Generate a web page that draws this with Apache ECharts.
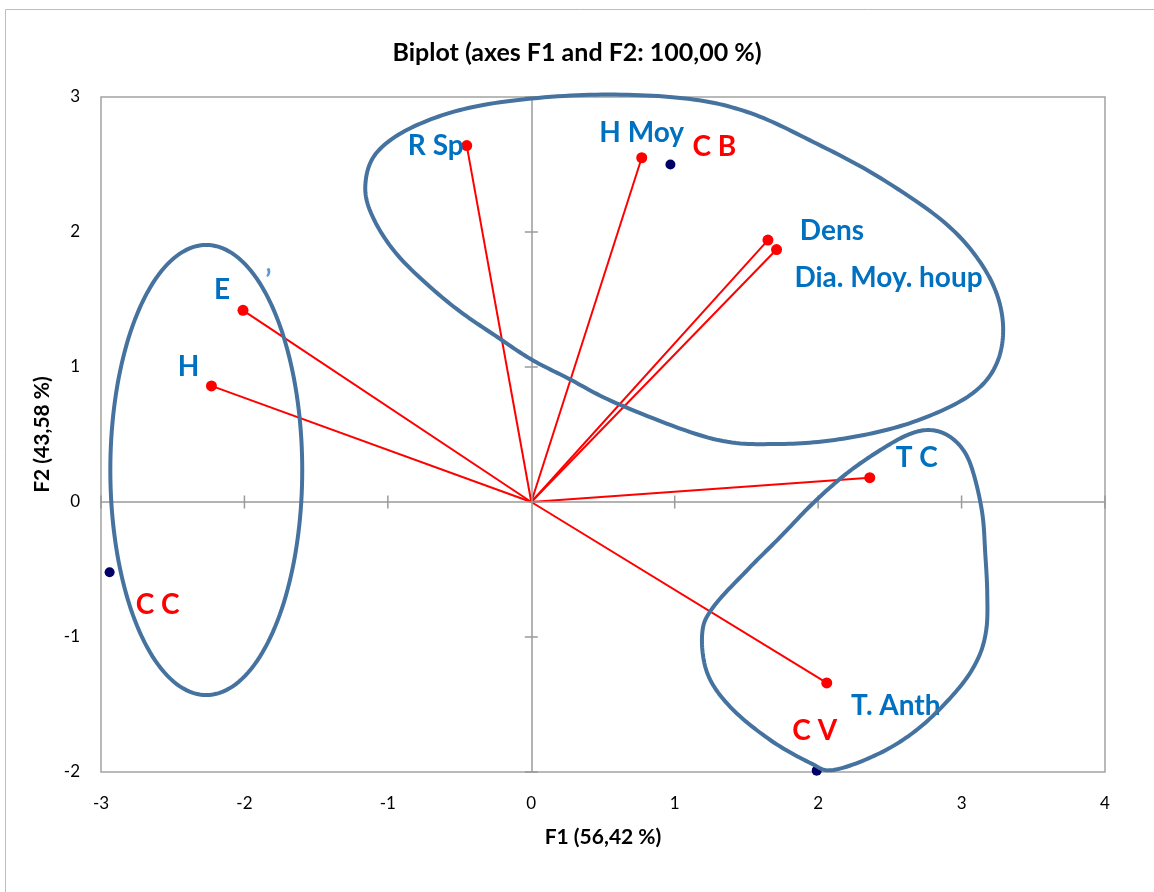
<!DOCTYPE html>
<html>
<head>
<meta charset="utf-8">
<title>Biplot</title>
<script src="https://cdn.jsdelivr.net/npm/echarts@6/dist/echarts.min.js"></script>
<style>
  html, body { margin: 0; padding: 0; background: #ffffff; }
  #chart { width: 1154px; height: 892px; }
</style>
</head>
<body>
<div id="chart"></div>
<script>
// Axis ticks
const xTicks = [-3, -2, -1, 0, 1, 2, 3, 4];
const yTicks = [-2, -1, 0, 1, 2, 3];

// Variables (vectors from the origin)
const variableNames = ['R Sp', 'H Moy', 'Dens', 'Dia. Moy. houp', 'E', 'H', 'T C', 'T. Anth'];
const variableF1 = [-0.45, 0.77, 1.65, 1.71, -2.01, -2.23, 2.36, 2.06];
const variableF2 = [2.64, 2.55, 1.94, 1.87, 1.42, 0.86, 0.18, -1.34];

// Observations
const observationNames = ['C B', 'C C', 'C V'];
const observationF1 = [0.97, -2.94, 1.99];
const observationF2 = [2.50, -0.52, -1.99];

// Group outlines drawn around the clusters (F1, F2 units)
const upperGroupOutline = [
  [0.363, 3.015], [1.039, 2.993], [1.506, 2.889], [1.966, 2.667], [2.434, 2.400],
  [2.901, 2.052], [3.173, 1.704], [3.285, 1.363], [3.249, 1.037], [3.061, 0.793],
  [2.663, 0.593], [2.203, 0.474], [1.736, 0.430], [1.269, 0.467], [0.621, 0.719],
  [0.251, 0.919], [0.007, 1.052], [-0.216, 1.207], [-0.565, 1.467], [-0.914, 1.807],
  [-1.102, 2.104], [-1.157, 2.348], [-1.074, 2.593], [-0.795, 2.793], [-0.335, 2.941]
];
const lowerRightGroupOutline = [
  [2.768, 0.533], [2.900, 0.496], [3.012, 0.385], [3.082, 0.215], [3.144, -0.081],
  [3.165, -0.378], [3.179, -0.674], [3.172, -0.948], [3.110, -1.170], [2.970, -1.393],
  [2.712, -1.667], [2.433, -1.859], [2.106, -1.985], [1.945, -1.933], [1.666, -1.763],
  [1.388, -1.519], [1.227, -1.267], [1.192, -0.970], [1.269, -0.778], [1.506, -0.504],
  [1.736, -0.259], [1.966, -0.007], [2.203, 0.215], [2.434, 0.385], [2.622, 0.496]
];
const leftGroupEllipse = { cx: -2.266, cy: 0.237, rx: 0.669, ry: 1.667 };

// Layout of the point labels (pixel offsets from the point)
const variableLabelOffset = {
  'R Sp': [-31, 0], 'H Moy': [0, -25], 'Dens': [64, -9], 'Dia. Moy. houp': [112, 28],
  'E': [-21, -20], 'H': [-23, -19], 'T C': [47, -20], 'T. Anth': [69, 23]
};
const observationLabelOffset = { 'C B': [44, -18], 'C C': [48, 33], 'C V': [-2, -40] };

const FONT = 'Lato, "Open Sans", sans-serif';
const OUTLINE_COLOR = '#45729e';

// Closed Catmull-Rom curve through pixel points
function catmullClosed(pts, steps) {
  const out = [];
  const m = pts.length;
  for (let i = 0; i < m; i++) {
    const p0 = pts[(i - 1 + m) % m], p1 = pts[i], p2 = pts[(i + 1) % m], p3 = pts[(i + 2) % m];
    for (let k = 0; k < steps; k++) {
      const t = k / steps, t2 = t * t, t3 = t2 * t;
      const c = j => 0.5 * (2 * p1[j] + (-p0[j] + p2[j]) * t +
        (2 * p0[j] - 5 * p1[j] + 4 * p2[j] - p3[j]) * t2 +
        (-p0[j] + 3 * p1[j] - 3 * p2[j] + p3[j]) * t3);
      out.push([c(0), c(1)]);
    }
  }
  return out;
}

const chart = echarts.init(document.getElementById('chart'), null, { renderer: 'canvas' });

const variableData = variableNames.map((n, i) => ({
  name: n,
  value: [variableF1[i], variableF2[i]],
  label: { offset: variableLabelOffset[n] }
}));
const observationData = observationNames.map((n, i) => ({
  name: n,
  value: [observationF1[i], observationF2[i]],
  label: { offset: observationLabelOffset[n] }
}));

const pointLabel = color => ({
  show: true, position: 'inside', formatter: '{b}',
  fontFamily: FONT, fontSize: 28, fontWeight: 'bold', color: color, opacity: 1,
  align: 'center', verticalAlign: 'middle'
});

const option = {
  backgroundColor: '#ffffff',
  animation: false,
  title: {
    text: 'Biplot (axes F1 and F2: 100,00 %)',
    left: 'center',
    top: 35,
    textStyle: { fontFamily: FONT, fontSize: 25, fontWeight: 'bold', color: '#000000' }
  },
  graphic: [{
    type: 'rect',
    shape: { x: 5.5, y: 9.5, width: 1200, height: 1000 },
    style: { fill: 'none', stroke: '#bdbdbd', lineWidth: 1 },
    silent: true, z: -10
  }],
  grid: {
    left: 101, right: 49, top: 97, bottom: 120,
    containLabel: false, outerBoundsMode: 'none',
    show: true, borderColor: '#a3a3a3', borderWidth: 1.5, backgroundColor: 'transparent'
  },
  xAxis: {
    type: 'value', min: -3, max: 4, interval: 1,
    name: 'F1 (56,42 %)', nameLocation: 'middle', nameGap: 55,
    nameTextStyle: { fontFamily: FONT, fontSize: 21, fontWeight: 'bold', color: '#000' },
    axisLine: { show: false, onZero: false }, axisTick: { show: false }, splitLine: { show: false },
    axisLabel: { fontFamily: FONT, fontSize: 17, color: '#000', margin: 23,
      customValues: xTicks, formatter: v => String(v) }
  },
  yAxis: {
    type: 'value', min: -2, max: 3, interval: 1,
    name: 'F2 (43,58 %)', nameLocation: 'middle', nameGap: 47, nameRotate: 90,
    nameTextStyle: { fontFamily: FONT, fontSize: 21, fontWeight: 'bold', color: '#000' },
    axisLine: { show: false, onZero: false }, axisTick: { show: false }, splitLine: { show: false },
    axisLabel: { fontFamily: FONT, fontSize: 17, color: '#000', margin: 21,
      customValues: yTicks, formatter: v => String(v) }
  },
  series: [
    // Zero lines and cross tick marks
    {
      type: 'scatter', silent: true, z: 1,
      symbol: 'rect',
      data: xTicks.filter(v => v !== 0).map(v => ({ value: [v, 0], symbolSize: [1.5, 13] }))
        .concat(yTicks.filter(v => v !== 0).map(v => ({ value: [0, v], symbolSize: [13, 1.5] }))),
      itemStyle: { color: '#9a9a9a', opacity: 1 },
      markLine: {
        silent: true, symbol: 'none', label: { show: false },
        lineStyle: { color: '#9a9a9a', width: 1.5, type: 'solid' },
        data: [{ xAxis: 0 }, { yAxis: 0 }]
      }
    },
    // Vectors from the origin
    {
      type: 'custom', silent: true, z: 3,
      data: variableNames.map((n, i) => [variableF1[i], variableF2[i]]),
      renderItem: (params, api) => {
        const o = api.coord([0, 0]);
        const p = api.coord([api.value(0), api.value(1)]);
        return {
          type: 'line',
          shape: { x1: o[0], y1: o[1], x2: p[0], y2: p[1] },
          style: { stroke: '#ff0000', lineWidth: 2 }
        };
      }
    },
    // Variable points
    {
      type: 'scatter', z: 4, symbol: 'circle', symbolSize: 11,
      itemStyle: { color: '#ff0000', opacity: 1 },
      label: pointLabel('#0070c0'),
      emphasis: { disabled: true },
      data: variableData
    },
    // Observation points
    {
      type: 'scatter', z: 4, symbol: 'circle', symbolSize: 10,
      itemStyle: { color: '#000066', opacity: 1 },
      label: pointLabel('#ff0000'),
      emphasis: { disabled: true },
      data: observationData
    },
    // Small stray mark near E
    {
      type: 'scatter', z: 4, symbol: 'circle', symbolSize: 0, silent: true,
      itemStyle: { opacity: 1 },
      data: [{ name: '\u2019', value: [-1.834, 1.64] }],
      label: { show: true, position: 'inside', formatter: '{b}', fontFamily: FONT,
        fontSize: 28, fontWeight: 'bold', color: '#5b9bd5', opacity: 1,
        align: 'center', verticalAlign: 'middle' }
    },
    // Group outlines
    {
      type: 'custom', silent: true, z: 6, clip: false,
      data: [[0, 0]],
      renderItem: (params, api) => {
        const up = catmullClosed(upperGroupOutline.map(p => api.coord(p)), 16);
        const lr = catmullClosed(lowerRightGroupOutline.map(p => api.coord(p)), 16);
        const e = leftGroupEllipse;
        const ell = [];
        for (let k = 0; k < 180; k++) {
          const a = (k / 180) * Math.PI * 2;
          ell.push(api.coord([e.cx + e.rx * Math.cos(a), e.cy + e.ry * Math.sin(a)]));
        }
        const st = { fill: 'none', stroke: OUTLINE_COLOR, lineWidth: 4 };
        return {
          type: 'group',
          children: [
            { type: 'polygon', shape: { points: up }, style: st },
            { type: 'polygon', shape: { points: lr }, style: st },
            { type: 'polygon', shape: { points: ell }, style: st }
          ]
        };
      }
    }
  ]
};

chart.setOption(option);
</script>
</body>
</html>
